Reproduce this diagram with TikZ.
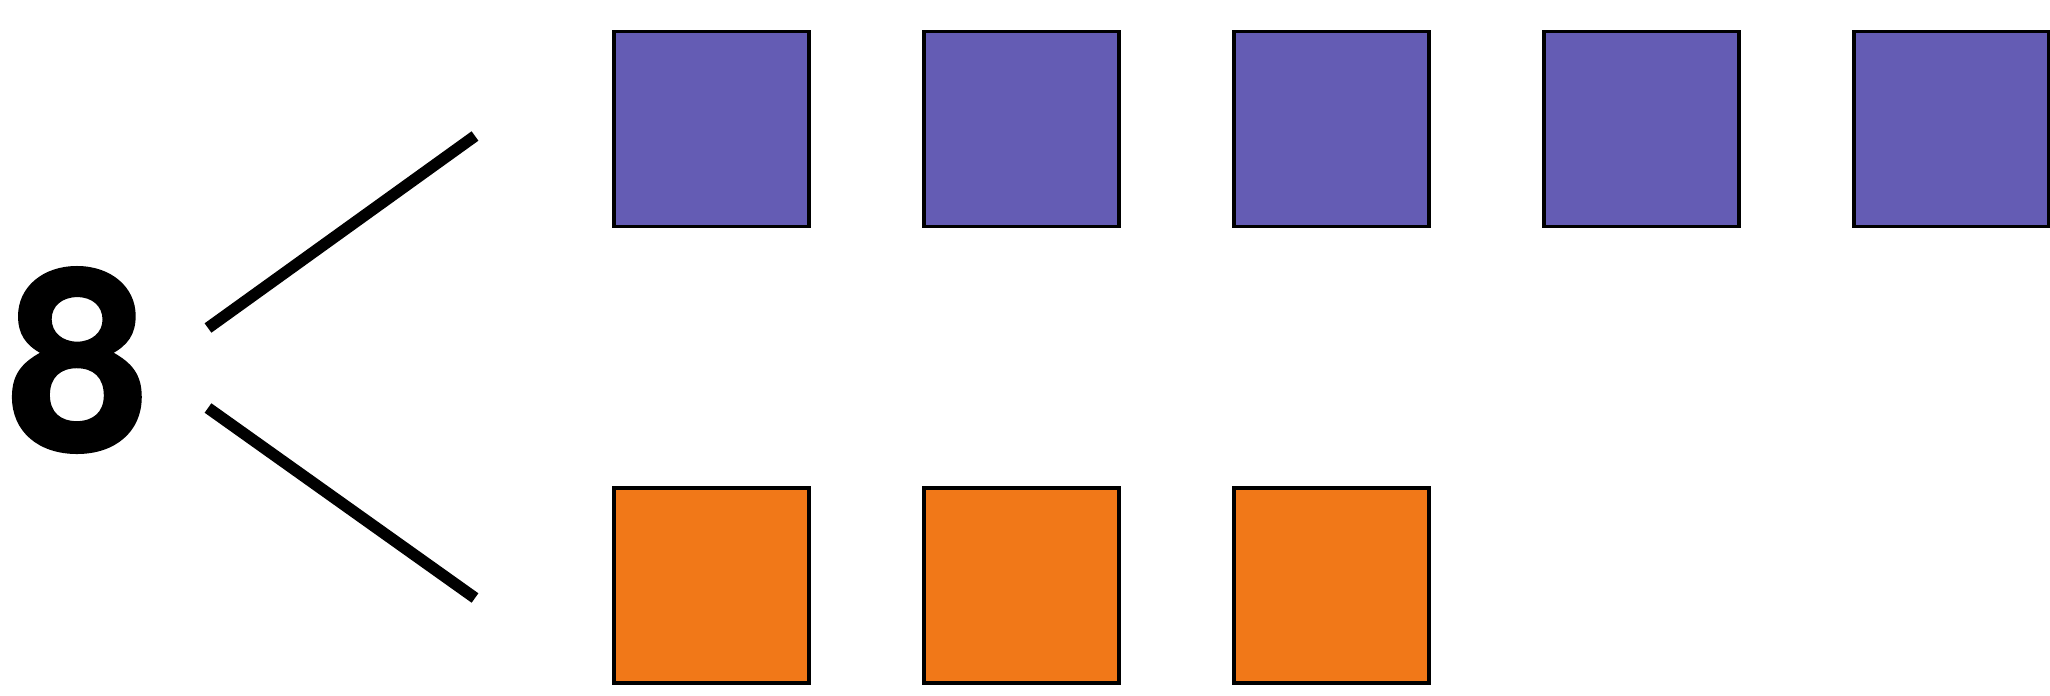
\documentclass[tikz,border=0pt]{standalone}
\usepackage{fontspec}
\newfontfamily\numfont{TeX Gyre Heros}[BoldFeatures={FakeBold=1}]
\usepackage{xcolor}
\definecolor{sqpurple}{RGB}{100,92,180}
\definecolor{sqorange}{RGB}{241,120,24}
\usetikzlibrary{positioning}

\begin{document}
\begin{tikzpicture}[
    sq/.style={draw=black,line width=0.9pt,minimum size=1.95cm,inner sep=0pt},
    branch/.style={line width=3.3pt}]
  \useasboundingbox (0,0) rectangle (20.5,6.95);

  \node[inner sep=0pt] (eight) at (0.78,3.35)
    {\numfont\bfseries\fontsize{72}{72}\selectfont 8};

  % top row
  \foreach \i/\x in {1/7.115,2/10.215,3/13.315,4/16.415,5/19.515}
    \node[sq,fill=sqpurple] (a\i) at (\x,5.66) {};
  % bottom row
  \foreach \i/\x in {1/7.115,2/10.215,3/13.315}
    \node[sq,fill=sqorange] (b\i) at (\x,1.095) {};

  \coordinate (up0) at (2.08,3.67);  \coordinate (up1) at (4.75,5.59);
  \coordinate (dn0) at (2.08,2.87);  \coordinate (dn1) at (4.75,0.97);
  \draw[branch] (up0) -- (up1);
  \draw[branch] (dn0) -- (dn1);
\end{tikzpicture}
\end{document}
